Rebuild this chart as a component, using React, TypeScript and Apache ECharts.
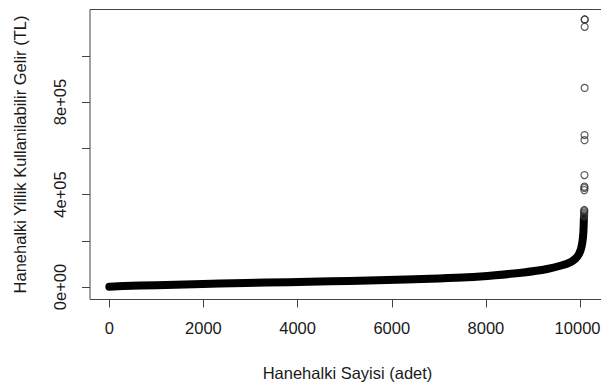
import React, { useEffect, useRef } from "react";
import * as echarts from "echarts";

// Dense sorted band (household rank, yearly disposable income TL)
const bandRanks = [1, 300, 1000, 1800, 2900, 3800, 4700, 5500, 6300, 7000, 7600, 8200, 8800, 9300, 9600, 9800, 9900, 9970, 10020, 10050, 10070, 10082];
const bandIncomes = [1500, 4500, 8000, 12000, 17500, 21000, 24500, 28500, 33000, 37000, 42000, 51000, 63000, 78000, 93000, 108000, 122000, 140000, 165000, 195000, 235000, 300000];

// Individual top households (open circles)
const topRanks = [10085, 10086, 10087, 10088, 10089, 10090, 10091, 10092, 10093, 10094, 10095, 10096, 10097, 10098, 10099, 10100];
const topIncomes = [305000, 310000, 316000, 322000, 328000, 333000, 419000, 428000, 434000, 484000, 635000, 657000, 861000, 1125000, 1157000, 1157000];

const xTickValues = [0, 2000, 4000, 6000, 8000, 10000];
const yTickValues = [0, 200000, 400000, 600000, 800000, 1000000];
const yLabelValues = [0, 400000, 800000];

const xTitle = "Hanehalki Sayisi (adet)";
const yTitle = "Hanehalki Yillik Kullanilabilir Gelir (TL)";

const FONT = "'Liberation Sans', Arial, sans-serif";
const FS = 16.5;
const TEXT = "#1a1a1a";
const LINE = "#444";

function sci(v: number): string {
  if (v === 0) return "0e+00";
  const e = Math.floor(Math.log10(Math.abs(v)));
  const m = Math.round((v / Math.pow(10, e)) * 100) / 100;
  return `${m}e+${String(e).padStart(2, "0")}`;
}

export default function App() {
  const ref = useRef<HTMLDivElement>(null);
  useEffect(() => {
    if (!ref.current) return;
    const chart = echarts.init(ref.current, undefined, { renderer: "svg" });
    const band = bandRanks.map((r, i) => [r, bandIncomes[i]]);
    const tops = topRanks.map((r, i) => [r, topIncomes[i]]);
    const lastTick = xTickValues[xTickValues.length - 1];
    chart.setOption({
      animation: false,
      backgroundColor: "#fff",
      textStyle: { fontFamily: FONT },
      grid: {
        left: 90,
        right: -4,
        top: 9.5,
        bottom: 87.5,
        containLabel: false,
        outerBoundsMode: "none",
        show: true,
        borderColor: LINE,
        borderWidth: 1,
        backgroundColor: "transparent",
      },
      xAxis: {
        type: "value",
        min: -410,
        max: 10530,
        name: xTitle,
        nameLocation: "middle",
        nameGap: 65,
        nameTextStyle: { fontSize: FS, color: TEXT, fontFamily: FONT },
        axisLine: { show: false, onZero: false },
        splitLine: { show: false },
        axisTick: {
          show: true,
          inside: false,
          length: 8,
          customValues: xTickValues,
          lineStyle: { color: LINE, width: 1 },
        },
        axisLabel: {
          show: true,
          margin: 20,
          fontSize: FS,
          color: TEXT,
          fontFamily: FONT,
          customValues: xTickValues,
          formatter: (v: number) => (v === lastTick ? `{edge|${v}}` : String(v)),
          rich: {
            edge: { fontSize: FS, color: TEXT, fontFamily: FONT, padding: [0, 5, 0, 0] },
          },
        },
      },
      yAxis: {
        type: "value",
        min: -54000,
        max: 1200000,
        name: yTitle,
        nameLocation: "middle",
        nameRotate: 90,
        nameGap: 62,
        nameTextStyle: { fontSize: FS, color: TEXT, fontFamily: FONT },
        axisLine: { show: false, onZero: false },
        splitLine: { show: false },
        axisTick: {
          show: true,
          inside: false,
          length: 8,
          customValues: yTickValues,
          lineStyle: { color: LINE, width: 1 },
        },
        axisLabel: {
          show: true,
          rotate: 90,
          margin: 22,
          fontSize: FS,
          color: TEXT,
          fontFamily: FONT,
          customValues: yLabelValues,
          formatter: (v: number) => sci(v),
        },
      },
      series: [
        {
          type: "line",
          data: band,
          symbol: "none",
          smooth: 0.3,
          lineStyle: { color: "#000", width: 8, cap: "round", join: "round" },
          z: 2,
        },
        {
          type: "scatter",
          data: tops,
          symbol: "circle",
          symbolSize: 7,
          itemStyle: { color: "rgba(0,0,0,0)", borderColor: "#333", borderWidth: 1.2 },
          z: 3,
        },
      ],
    });
    return () => chart.dispose();
  }, []);
  return (
    <div
      ref={ref}
      style={{ position: "fixed", left: 0, top: 0, width: 601, height: 387, background: "#fff" }}
    />
  );
}
